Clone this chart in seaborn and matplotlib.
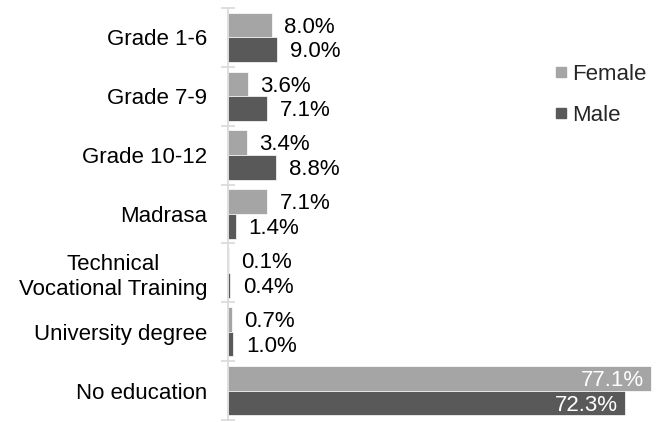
import pandas as pd
import seaborn as sns
import matplotlib.pyplot as plt
from matplotlib.lines import Line2D
from matplotlib.ticker import FixedLocator

# ------------------------------------------------------------------------------
# Data
# ------------------------------------------------------------------------------
categories = ["Grade 1-6", "Grade 7-9", "Grade 10-12", "Madrasa",
              "Technical\nVocational Training", "University degree", "No education"]
female = [8.0, 3.6, 3.4, 7.1, 0.1, 0.7, 77.1]
male = [9.0, 7.1, 8.8, 1.4, 0.4, 1.0, 72.3]
groups = ["Female", "Male"]
colors = ["#a5a5a5", "#595959"]

df = pd.DataFrame({
    "Education": categories * 2,
    "Percent": female + male,
    "Sex": ["Female"] * len(categories) + ["Male"] * len(categories),
})

# ------------------------------------------------------------------------------
# Plot
# ------------------------------------------------------------------------------
sns.set_style("white")
plt.rcParams["font.family"] = ["Liberation Sans", "DejaVu Sans"]
plt.rcParams["font.size"] = 16

fig = plt.figure(figsize=(6.56, 4.22), dpi=100)
ax = fig.add_axes([228 / 656, 2 / 422, 1 - 228 / 656, 412 / 422])

sns.barplot(data=df, y="Education", x="Percent", hue="Sex", hue_order=groups,
            palette=colors, saturation=1, width=0.84, orient="h",
            edgecolor="white", linewidth=0.5, legend=False, ax=ax)

ax.set_xlim(0, 78)
ax.set_ylim(len(categories) - 0.5, -0.5)
ax.xaxis.set_visible(False)
ax.set_ylabel("")
for side in ["top", "right", "bottom"]:
    ax.spines[side].set_visible(False)
ax.spines["left"].set_color("#d9d9d9")
ax.spines["left"].set_linewidth(1.2)

# category labels, boundary ticks crossing the axis
ax.tick_params(axis="y", which="major", left=True, length=0, pad=15,
               labelsize=16, labelcolor="black")
ax.yaxis.set_minor_locator(FixedLocator([i - 0.5 for i in range(len(categories) + 1)]))
ax.tick_params(axis="y", which="minor", left=True, direction="inout",
               length=10, width=1.2, color="#d9d9d9")
for t in ax.get_yticklabels():
    t.set_multialignment("center")

# value labels
for container, vals in zip(ax.containers, [female, male]):
    for patch, v in zip(container.patches, vals):
        xy = (patch.get_width(), patch.get_y() + patch.get_height() / 2)
        if v < 50:
            ax.annotate(f"{v:.1f}%", xy=xy, xytext=(9, -1.5), textcoords="offset points",
                        ha="left", va="center", color="black", fontsize=16)
        else:
            ax.annotate(f"{v:.1f}%", xy=xy, xytext=(-5, -1.5), textcoords="offset points",
                        ha="right", va="center", color="white", fontsize=16)

# legend
handles = [Line2D([], [], marker="s", linestyle="none", markersize=7.5,
                  markerfacecolor=c, markeredgecolor=c) for c in colors]
fig.legend(handles, groups, loc="center left", bbox_to_anchor=(543 / 656, 1 - 95 / 422),
           frameon=False, fontsize=16, handlelength=0.6, handletextpad=0.2,
           borderpad=0, labelspacing=0.9)

plt.savefig("out.png", dpi=100)
plt.close()
